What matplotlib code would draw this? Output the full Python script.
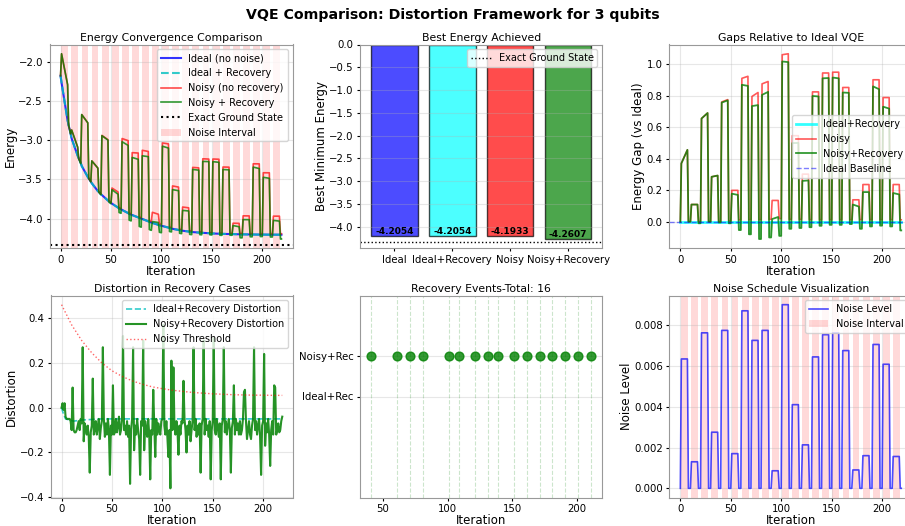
import matplotlib
matplotlib.use("Agg")
import matplotlib.pyplot as plt
import numpy as np

# ---- data ----
n_blocks = 22
block_len = 10
last_iter = 219

# ideal energy at block offsets 0, 1, 7, 8 (one row per block of 10 iterations)
ideal_at_offsets = [
    [-2.180, -2.270, -2.750, -2.810],
    [-2.920, -2.980, -3.200, -3.230],
    [-3.290, -3.330, -3.470, -3.490],
    [-3.530, -3.550, -3.650, -3.660],
    [-3.690, -3.700, -3.770, -3.780],
    [-3.800, -3.810, -3.860, -3.870],
    [-3.880, -3.890, -3.930, -3.940],
    [-3.950, -3.955, -3.985, -3.990],
    [-4.000, -4.005, -4.035, -4.040],
    [-4.050, -4.055, -4.080, -4.085],
    [-4.090, -4.095, -4.115, -4.120],
    [-4.125, -4.130, -4.145, -4.148],
    [-4.152, -4.155, -4.165, -4.167],
    [-4.170, -4.172, -4.178, -4.179],
    [-4.181, -4.182, -4.186, -4.187],
    [-4.189, -4.190, -4.193, -4.193],
    [-4.194, -4.195, -4.197, -4.197],
    [-4.198, -4.198, -4.200, -4.200],
    [-4.201, -4.201, -4.202, -4.202],
    [-4.203, -4.203, -4.204, -4.204],
    [-4.204, -4.204, -4.205, -4.205],
    [-4.2050, -4.2052, -4.2054, -4.2054],
]
ideal_last = -4.2054
exact_ground = -4.331

# noise level applied during each noise interval
noise_levels = [0.00634, 0.0013, 0.00762, 0.00275, 0.00774, 0.0017, 0.0087, 0.00725,
                0.00774, 0.00086, 0.0090, 0.0041, 0.00213, 0.00644, 0.00753, 0.00762,
                0.00675, 0.0009, 0.0016, 0.00705, 0.00608, 0.00156]

# energy gap vs ideal while noise is on (first / last noisy iteration)
noisy_gap_start = [0.37, 0.109, 0.655, 0.285, 0.76, 0.199, 0.91, 0.795, 0.875, 0.135, 1.06,
                   0.546, 0.302, 0.824, 0.944, 0.949, 0.852, 0.139, 0.236, 0.901, 0.788, 0.236]
noisy_gap_end = [0.456, 0.109, 0.69, 0.293, 0.775, 0.199, 0.923, 0.82, 0.89, 0.135, 1.066,
                 0.546, 0.302, 0.824, 0.944, 0.949, 0.852, 0.139, 0.236, 0.901, 0.788, 0.236]
noisy_gap_after = [0.0, 0.0, 0.0, 0.0, 0.005, 0.012, 0.013, 0.013, 0.015, 0.02, 0.015,
                   0.015, 0.013, 0.013, 0.013, 0.013, 0.013, 0.013, 0.013, 0.013, 0.013, 0.0121]
rec_gap_start = [0.37, 0.109, 0.655, 0.285, 0.756, 0.178, 0.869, 0.734, 0.805, 0.017, 1.017,
                 0.499, 0.259, 0.798, 0.91, 0.915, 0.82, 0.109, 0.188, 0.859, 0.73, 0.182]
rec_gap_end = [0.456, 0.109, 0.69, 0.293, 0.77, 0.17, 0.862, 0.74, 0.824, 0.03, 1.013,
               0.50, 0.262, 0.795, 0.912, 0.91, 0.818, 0.096, 0.188, 0.841, 0.718, 0.173]
rec_gap_after = [0.0, -0.01, 0.0, -0.005, -0.01, -0.053, -0.08, -0.11, -0.10, -0.09, -0.045,
                 -0.04, -0.035, -0.026, -0.02, -0.02, -0.015, -0.045, -0.03, -0.025, -0.03, -0.0553]

# distortion of Noisy+Recovery, one row per block (offsets 0..9)
noisy_rec_distortion = [
    [0.00, 0.02, -0.01, 0.02, -0.04, -0.05, -0.05, -0.05, -0.05, -0.06],
    [-0.10, 0.09, -0.10, -0.11, -0.11, -0.10, -0.08, -0.06, -0.10, -0.05],
    [-0.07, 0.27, -0.15, -0.07, -0.09, -0.12, -0.08, -0.13, -0.29, -0.11],
    [-0.08, 0.13, -0.12, -0.10, -0.06, -0.12, -0.08, -0.05, -0.14, -0.09],
    [-0.06, 0.27, -0.05, -0.13, -0.07, -0.12, -0.05, -0.10, -0.30, -0.08],
    [-0.12, 0.10, -0.12, -0.11, -0.05, -0.11, -0.08, -0.04, -0.12, -0.10],
    [-0.05, 0.32, -0.10, -0.08, -0.12, -0.06, -0.13, -0.08, -0.34, -0.10],
    [-0.05, 0.27, -0.19, -0.08, -0.12, -0.05, -0.10, -0.14, -0.30, -0.06],
    [-0.08, 0.30, -0.19, -0.06, -0.10, -0.13, -0.05, -0.12, -0.32, -0.10],
    [-0.12, 0.08, -0.08, -0.22, -0.05, -0.12, -0.07, -0.10, -0.12, -0.06],
    [-0.05, 0.37, -0.08, -0.12, -0.06, -0.13, -0.22, -0.10, -0.36, 0.21],
    [-0.10, 0.18, -0.08, -0.12, -0.06, -0.10, -0.21, -0.08, -0.12, -0.06],
    [-0.07, 0.12, -0.05, -0.10, -0.20, -0.08, -0.12, -0.06, -0.15, -0.10],
    [-0.06, 0.27, -0.10, -0.05, -0.13, -0.08, -0.12, -0.07, -0.29, -0.08],
    [-0.05, 0.30, -0.12, -0.05, -0.10, -0.08, -0.13, -0.06, -0.32, -0.10],
    [-0.06, 0.31, -0.10, -0.12, -0.05, -0.09, -0.13, -0.07, -0.32, -0.08],
    [-0.05, 0.27, -0.11, -0.06, -0.12, -0.08, -0.05, -0.10, -0.29, -0.09],
    [-0.06, 0.10, -0.12, -0.05, -0.10, -0.07, -0.12, -0.06, -0.12, -0.10],
    [-0.05, 0.07, 0.08, -0.06, -0.14, -0.10, -0.06, -0.12, -0.14, -0.08],
    [-0.05, 0.27, -0.10, -0.06, -0.12, -0.08, -0.05, -0.13, -0.30, -0.08],
    [-0.06, 0.24, -0.17, -0.07, -0.11, -0.05, -0.12, -0.26, -0.10, -0.06],
    [-0.12, 0.10, 0.09, -0.12, -0.10, -0.07, -0.11, -0.10, -0.06, -0.04],
]
ideal_rec_dist_iters = [0, 2, 4, 8, 12, 20, 40, 219]
ideal_rec_dist_values = [0.0, -0.03, -0.05, -0.055, -0.06, -0.055, -0.05, -0.05]
threshold_iters = [0, 10, 20, 30, 40, 50, 60, 70, 80, 90, 100, 110, 120, 130, 140, 150,
                   160, 170, 180, 190, 200, 210, 219]
threshold_values = [0.46, 0.37, 0.30, 0.245, 0.20, 0.165, 0.14, 0.12, 0.105, 0.093, 0.085,
                    0.078, 0.073, 0.068, 0.065, 0.062, 0.06, 0.058, 0.057, 0.056, 0.056,
                    0.055, 0.055]

recovery_events = [41, 61, 71, 81, 101, 109, 121, 131, 139, 151, 161, 171, 181, 191, 201, 211]

bar_labels = ["Ideal", "Ideal+Recovery", "Noisy", "Noisy+Recovery"]
bar_colors = ["blue", "cyan", "red", "green"]

# ---- assemble the series ----
offsets = [0, 1, 7, 8]
iters = []
noise_curve = []
noisy_gap = []
rec_gap = []
for k in range(n_blocks):
    base = k * block_len
    iters += [base + o for o in offsets]
    noise_curve += [0.0, noise_levels[k], noise_levels[k], 0.0]
    prev_n = noisy_gap_after[k - 1] if k > 0 else 0.0
    prev_r = rec_gap_after[k - 1] if k > 0 else 0.0
    noisy_gap += [prev_n, noisy_gap_start[k], noisy_gap_end[k], noisy_gap_after[k]]
    rec_gap += [prev_r, rec_gap_start[k], rec_gap_end[k], rec_gap_after[k]]
iters.append(last_iter)
noise_curve.append(0.0)
noisy_gap.append(noisy_gap_after[-1])
rec_gap.append(rec_gap_after[-1])

iters = np.array(iters)
ideal = np.array([v for row in ideal_at_offsets for v in row] + [ideal_last])
noisy_gap = np.array(noisy_gap)
rec_gap = np.array(rec_gap)
noisy = ideal + noisy_gap
noisy_rec = ideal + rec_gap
ideal_rec = ideal.copy()
distortion = np.array(noisy_rec_distortion).ravel()
dist_iters = np.arange(len(distortion))

plt.rcParams["font.family"] = "DejaVu Sans"
plt.rcParams["xtick.labelsize"] = 7.3
plt.rcParams["ytick.labelsize"] = 7.3
plt.rcParams["xtick.major.size"] = 2.5
plt.rcParams["ytick.major.size"] = 2.5
plt.rcParams["xtick.major.pad"] = 2.0
plt.rcParams["ytick.major.pad"] = 2.2
plt.rcParams["axes.labelsize"] = 8.5
plt.rcParams["axes.titlesize"] = 7.8
plt.rcParams["axes.titlepad"] = 2.5
plt.rcParams["legend.fontsize"] = 7
plt.rcParams["axes.edgecolor"] = "#999999"

W, H = 905, 526
fig = plt.figure(figsize=(W / 100, H / 100), dpi=100)


def add_ax(left, top, right, bottom):
    return fig.add_axes([left / W, 1 - bottom / H, (right - left) / W, (bottom - top) / H])


ax1 = add_ax(49.5, 44.5, 292.5, 248.3)
ax2 = add_ax(360.3, 44.5, 602.3, 248.3)
ax3 = add_ax(669.3, 44.5, 912.3, 248.3)
ax4 = add_ax(50.5, 295.5, 293.3, 497.5)
ax5 = add_ax(360.3, 295.5, 602.3, 497.5)
ax6 = add_ax(669.3, 295.5, 912.3, 497.5)

fig.suptitle("VQE Comparison: Distortion Framework for 3 qubits", fontsize=10.2,
             fontweight="bold", y=1 - 15 / H, va="center")


def noise_spans(ax):
    for k in range(n_blocks):
        base = k * block_len
        ax.axvspan(base + 0.8, base + 7.6, color="red", alpha=0.15, lw=0,
                   label="Noise Interval" if k == 0 else None)


def ordered_legend(ax, names, **kw):
    handles, labels = ax.get_legend_handles_labels()
    idx = [labels.index(n) for n in names]
    ax.legend([handles[i] for i in idx], [labels[i] for i in idx], **kw)


# 1. energy convergence
noise_spans(ax1)
ax1.plot(iters, ideal, color="blue", lw=1.5, alpha=0.8, label="Ideal (no noise)")
ax1.plot(iters, ideal_rec, color="c", lw=1.5, ls="--", alpha=0.8, label="Ideal + Recovery")
ax1.plot(iters, noisy, color="red", lw=1.2, alpha=0.7, label="Noisy (no recovery)")
ax1.plot(iters, noisy_rec, color="green", lw=1.2, alpha=0.8, label="Noisy + Recovery")
ax1.fill_between(iters, noisy_rec, ideal, where=noisy_rec < ideal, color="green",
                 alpha=0.3, interpolate=True, lw=0)
ax1.axhline(exact_ground, color="black", ls=":", lw=1.5, label="Exact Ground State")
ax1.set_title("Energy Convergence Comparison")
ax1.set_xlabel("Iteration", labelpad=0)
ax1.set_ylabel("Energy", labelpad=1)
ax1.grid(True, alpha=0.3)
ordered_legend(ax1, ["Ideal (no noise)", "Ideal + Recovery", "Noisy (no recovery)",
                     "Noisy + Recovery", "Exact Ground State", "Noise Interval"],
               loc="upper right")

# 2. best energy bars
best = [ideal.min(), ideal_rec.min(), noisy.min(), noisy_rec.min()]
bars = ax2.bar(bar_labels, best, color=bar_colors, alpha=0.7, edgecolor="black", lw=1)
for bar, val in zip(bars, best):
    ax2.text(bar.get_x() + bar.get_width() / 2, val, f"{val:.4f}", ha="center", va="bottom",
             fontsize=6.5, fontweight="bold")
ax2.axhline(exact_ground, color="black", ls=":", lw=1, label="Exact Ground State")
ax2.set_title("Best Energy Achieved")
ax2.set_ylabel("Best Minimum Energy", labelpad=1)
ax2.grid(True, alpha=0.3, axis="y")
ax2.legend(loc="upper right")

# 3. gaps relative to ideal
ax3.plot(iters, ideal_rec - ideal, color="cyan", lw=2, alpha=0.8, label="Ideal+Recovery")
ax3.plot(iters, noisy_gap, color="red", lw=1.2, alpha=0.65, label="Noisy")
ax3.plot(iters, rec_gap, color="green", lw=1.3, alpha=0.8, label="Noisy+Recovery")
ax3.fill_between(iters, rec_gap, 0, where=rec_gap < 0, color="green", alpha=0.3,
                 interpolate=True, lw=0)
ax3.axhline(0, color="blue", ls="--", lw=1, alpha=0.5, label="Ideal Baseline")
ax3.set_title("Gaps Relative to Ideal VQE")
ax3.set_xlabel("Iteration", labelpad=0)
ax3.set_ylabel("Energy Gap (vs Ideal)", labelpad=1)
ax3.grid(True, alpha=0.3)
ax3.legend(loc="center right")

# 4. distortion
ax4.plot(ideal_rec_dist_iters, ideal_rec_dist_values, color="c", ls="--", lw=1.2,
         alpha=0.8, label="Ideal+Recovery Distortion")
ax4.plot(dist_iters, distortion, color="green", lw=1.5, alpha=0.85,
         label="Noisy+Recovery Distortion")
ax4.plot(threshold_iters, threshold_values, color="red", ls=":", lw=1, alpha=0.6,
         label="Noisy Threshold")
ax4.set_title("Distortion in Recovery Cases")
ax4.set_xlabel("Iteration", labelpad=0)
ax4.set_ylabel("Distortion", labelpad=1)
ax4.grid(True, alpha=0.3)
ax4.legend(loc="upper right")

# 5. recovery events
for ev in recovery_events:
    ax5.axvline(ev, color="green", ls="--", lw=0.8, alpha=0.2)
ax5.scatter(recovery_events, [1] * len(recovery_events), color="green", s=40, alpha=0.8,
            zorder=3)
ax5.set_yticks([0, 1])
ax5.set_yticklabels(["Ideal+Rec", "Noisy+Rec"])
ax5.set_ylim(-2.5, 2.5)
ax5.set_title(f"Recovery Events-Total: {len(recovery_events)}")
ax5.set_xlabel("Iteration", labelpad=0)
ax5.grid(True, alpha=0.3, axis="y")

# 6. noise schedule
noise_spans(ax6)
ax6.plot(iters, noise_curve, color="blue", lw=1.2, alpha=0.7, label="Noise Level")
ax6.set_title("Noise Schedule Visualization")
ax6.set_xlabel("Iteration", labelpad=0)
ax6.set_ylabel("Noise Level", labelpad=1)
ax6.grid(True, alpha=0.3)
ordered_legend(ax6, ["Noise Level", "Noise Interval"], loc="upper right")

fig.savefig("out.png", dpi=100)
